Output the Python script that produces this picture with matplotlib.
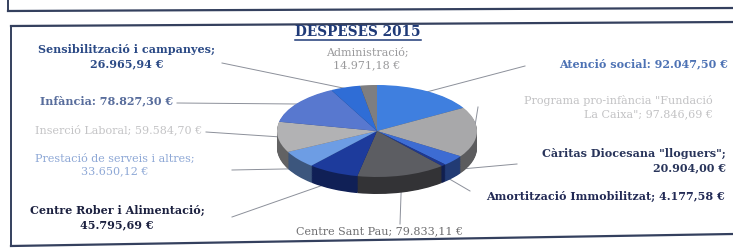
import numpy as np
import matplotlib
matplotlib.use("Agg")
import matplotlib.pyplot as plt

plt.rcParams.update({
    "font.family": "DejaVu Serif",
    "figure.facecolor": "white",
})

# data (clockwise from 12 o'clock)
categories = [
    "Atenció social", "Programa pro-infància", "Càritas Diocesana", "Amortització Immobilitzat",
    "Centre Sant Pau", "Centre Rober i Alimentació", "Prestació de serveis i altres",
    "Inserció Laboral", "Infància", "Sensibilització i campanyes", "Administració",
]
values = [92047.50, 97846.69, 20904.00, 4177.58, 79833.11, 45795.69,
          33650.12, 59584.70, 78827.30, 26965.94, 14971.18]
labels = [
    "Atenció social: 92.047,50 €",
    "Programa pro-infància \"Fundació\nLa Caixa\"; 97.846,69 €",
    "Càritas Diocesana \"lloguers\";\n20.904,00 €",
    "Amortització Immobilitzat; 4.177,58 €",
    "Centre Sant Pau; 79.833,11 €",
    "Centre Rober i Alimentació;\n45.795,69 €",
    "Prestació de serveis i altres;\n33.650,12 €",
    "Inserció Laboral; 59.584,70 €",
    "Infància: 78.827,30 €",
    "Sensibilització i campanyes;\n26.965,94 €",
    "Administració;\n14.971,18 €",
]
slice_colors = ["#3f7fdf", "#a8a8aa", "#3d6cd3", "#1f3890", "#5c5d62", "#1d3b9c",
                "#6d9de4", "#b2b2b4", "#5878cf", "#2f6dd6", "#7e7e80"]
text_colors = ["#4d72b4", "#c2c2c4", "#28345a", "#222a55", "#6e6e70", "#1c2140",
               "#8ea8d6", "#c4c4c6", "#586d9c", "#2b4a86", "#9a9a9c"]
text_bold = [True, False, True, True, False, True, False, False, True, True, False]

# layout in pixels (733x250 canvas, y downwards)
W, H = 733, 250
CX, CY, A, B, DEPTH = 377, 131, 100, 46, 17
# label anchor (x, y, ha) and where the leader line leaves the label
label_pos = [
    (728, 64, "right"), (713, 107, "right"), (726, 161, "right"), (725, 196, "right"),
    (380, 231, "center"), (117, 218, "center"), (115, 165, "center"), (35, 130, "left"),
    (40, 101, "left"), (127, 57, "center"), (367, 59, "center"),
]
line_start = [
    (525, 66), (478, 107), (517, 164), (470, 191),
    (400, 224), (232, 217), (232, 170), (206, 132),
    (177, 103), (222, 63), None,
]

fig = plt.figure(figsize=(W / 100, H / 100), dpi=100)
ax = fig.add_axes([0, 0, 1, 1])
ax.set_xlim(0, W)
ax.set_ylim(H, 0)
ax.axis("off")

# frame of the scanned box
frame_col = "#34405e"
ax.plot([8, W], [11, 8], color=frame_col, lw=1.6)
ax.plot([8, 8], [0, 11], color=frame_col, lw=1.4)
ax.plot([11, W], [26, 22], color=frame_col, lw=1.6)
ax.plot([11, 11], [26, 246], color=frame_col, lw=1.4)
ax.plot([11, W], [246, 234], color=frame_col, lw=1.6)

# pie: pseudo 3D, squashed ellipse with a stacked side
ax_pie = fig.add_axes([(CX - A) / W, (H - (CY + B + DEPTH + 6)) / H,
                       2 * A / W, (2 * B + DEPTH + 6) / H])
ylo = -(B + DEPTH + 6) / B
side_colors = [tuple(c * 0.55 for c in matplotlib.colors.to_rgb(col)) for col in slice_colors]
n_layers = 24
for k in range(n_layers):
    off = -DEPTH / B * (1 - k / n_layers)
    ax_pie.pie(values, colors=side_colors, startangle=90, counterclock=False,
               center=(0, off), radius=1, wedgeprops=dict(linewidth=0))
ax_pie.pie(values, colors=slice_colors, startangle=90, counterclock=False,
           center=(0, 0), radius=1, wedgeprops=dict(linewidth=0))
ax_pie.set_aspect("auto")
ax_pie.set_xlim(-1, 1)
ax_pie.set_ylim(ylo, 1)
ax_pie.axis("off")

# leader lines to the middle of each slice
frac = np.cumsum([0] + values) / sum(values)
for i, start in enumerate(line_start):
    if start is None:
        continue
    theta = np.deg2rad(90 - 360 * (frac[i] + frac[i + 1]) / 2)
    ex = CX + 0.97 * A * np.cos(theta)
    ey = CY - 0.97 * B * np.sin(theta)
    if np.sin(theta) < -0.2:
        ey += DEPTH * 0.6
    ax.plot([start[0], ex], [start[1], ey], color="#8c909a", lw=0.7, zorder=1)

for i, lab in enumerate(labels):
    x, y, ha = label_pos[i]
    ax.text(x, y, lab, ha=ha, va="center", fontsize=8.0, color=text_colors[i],
            fontweight="bold" if text_bold[i] else "normal", linespacing=1.35,
            multialignment=ha)

title = ax.text(358, 32, "DESPESES 2015", ha="center", va="center", fontsize=9.8,
                fontweight="bold", color="#1f3a78")
fig.canvas.draw()
bb = title.get_window_extent().transformed(ax.transData.inverted())
ax.plot([bb.x0, bb.x1], [bb.y0 + 1, bb.y0 + 1], color="#1f3a78", lw=1.1)

fig.savefig("out.png", dpi=100, facecolor="white")
